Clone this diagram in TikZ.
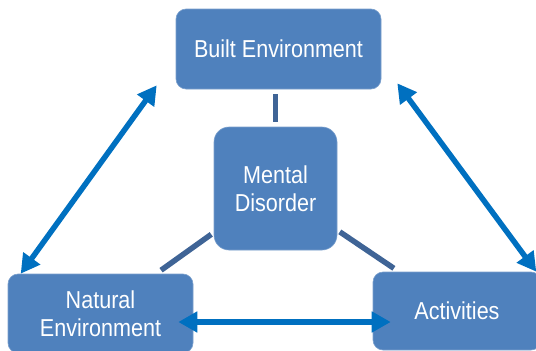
\documentclass[tikz,border=0pt]{standalone}
\usepackage{fontspec}
\setmainfont{Liberation Sans}[FakeStretch=0.88]
\usetikzlibrary{arrows.meta}
\definecolor{boxblue}{RGB}{79,129,189}
\definecolor{arrowblue}{RGB}{0,112,192}
\definecolor{linkblue}{RGB}{63,100,150}
\begin{document}
\begin{tikzpicture}[x=1pt, y=-1pt,
  box/.style={fill=boxblue, draw=boxblue!75!white, line width=0.6pt, rounded corners=10pt, text=white, align=center, inner sep=0pt, font=\fontsize{24.5}{28}\selectfont},
  twoway/.style={{Triangle[length=19pt,width=20pt]}-{Triangle[length=19pt,width=20pt]}, arrowblue, line width=5.5pt},
  link/.style={linkblue, line width=5.5pt, shorten <=5pt, shorten >=5pt}]
\useasboundingbox (0,0) rectangle (536,351);
\clip (0,0) rectangle (536,351);

\node (built) at (278.5,49) [box, minimum width=205pt, minimum height=80pt] {Built Environment};
\node (mental) at (275.5,188.5) [box, rounded corners=15pt, minimum width=123pt, minimum height=123pt] {Mental\\Disorder};
\node (natural) at (100.5,313.5) [box, minimum width=185pt, minimum height=79pt] {Natural\\Environment};
\node (activities) at (457,311) [box, minimum width=168pt, minimum height=78pt] {Activities};

\draw [link] (built.south -| mental.north) -- (mental.north);
\draw [link, shorten <=3pt, shorten >=6pt] (mental) -- (natural);
\draw [link, shorten <=3pt, shorten >=6pt] (mental) -- (activities);

\draw [twoway] ([shift={(-19,-4)}]built.south west) -- ([shift={(13,0)}]natural.north west);
\draw [twoway] ([shift={(16,-6)}]built.south east) -- ([shift={(-5,0)}]activities.north east);
\draw [twoway] ([shift={(-15,8.5)}]natural.east) -- ([shift={(18,11)}]activities.west);
\end{tikzpicture}
\end{document}
